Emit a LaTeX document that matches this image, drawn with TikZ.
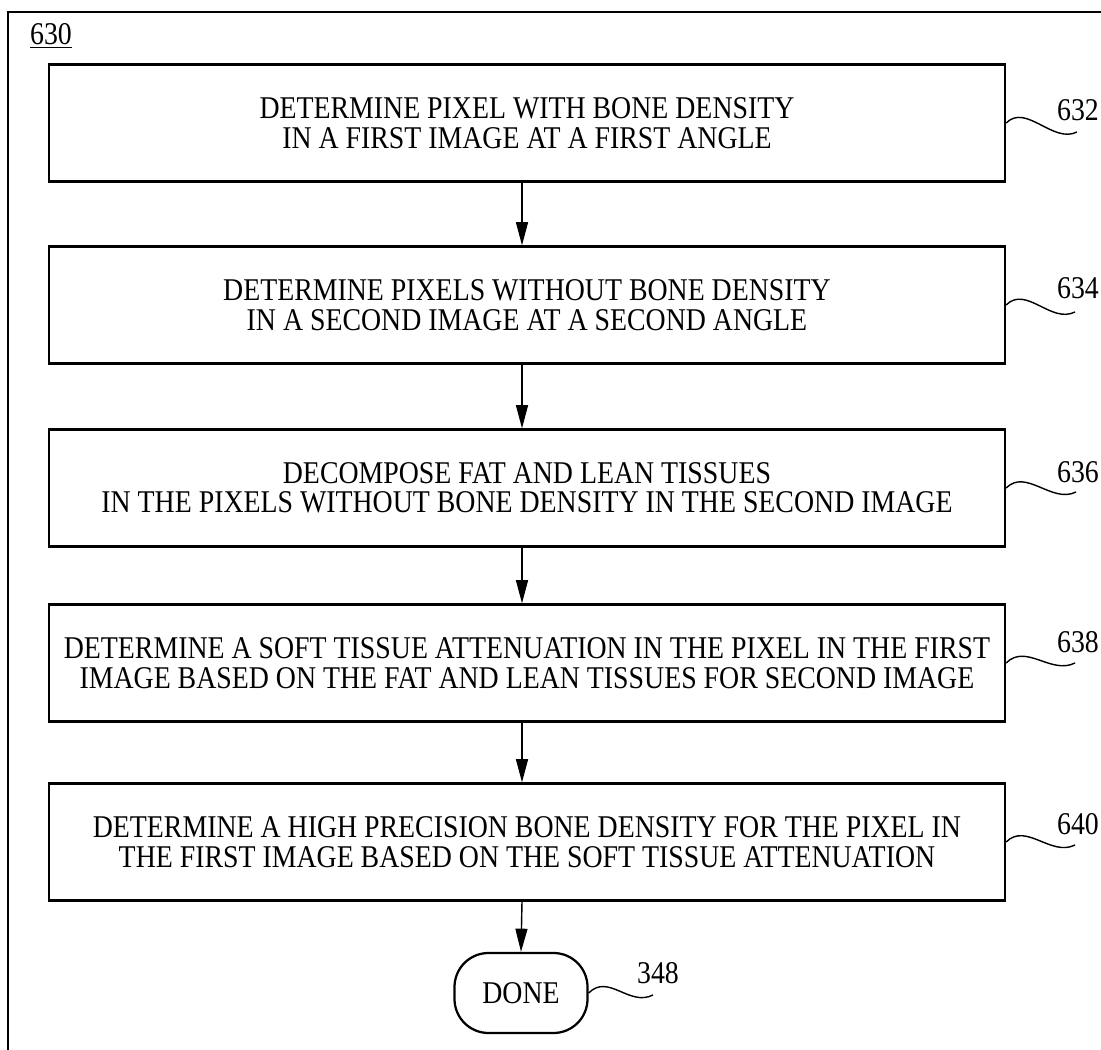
\documentclass[tikz,border=0pt]{standalone}
\usepackage{fontspec}
\setmainfont[FakeStretch=0.88]{Liberation Serif}
\usetikzlibrary{arrows.meta}
\pgfdeclarelayer{edgelayer}
\pgfdeclarelayer{nodelayer}
\pgfsetlayers{edgelayer,nodelayer,main}
\tikzset{font=\fontsize{22.5pt}{21pt}\selectfont}
\tikzstyle{none}=[inner sep=0pt]
\tikzstyle{stepbox}=[rectangle,draw,line width=1.6pt,minimum width=23.9cm,minimum height=2.925cm,align=center,inner sep=0pt]
\tikzstyle{donebox}=[rectangle,draw,line width=1.6pt,rounded corners=0.85cm,minimum width=3.325cm,minimum height=2cm,inner sep=0pt]
\tikzstyle{ref}=[inner sep=0pt]
\tikzstyle{flow}=[line width=1pt,-{Triangle[length=0.58cm,width=0.3cm]}]
\tikzstyle{lead}=[line width=1pt]

\begin{document}
\begin{tikzpicture}
	\useasboundingbox (0, 0) rectangle (27.525, -26.25);
	\begin{pgfonlayer}{nodelayer}
		\node [style=stepbox] (0) at (13.175, -3.075) {DETERMINE PIXEL WITH BONE DENSITY\\IN A FIRST IMAGE AT A FIRST ANGLE};
		\node [style=stepbox] (1) at (13.175, -7.625) {DETERMINE PIXELS WITHOUT BONE DENSITY\\IN A SECOND IMAGE AT A SECOND ANGLE};
		\node [style=stepbox] (2) at (13.175, -12.2) {DECOMPOSE FAT AND LEAN TISSUES\\IN THE PIXELS WITHOUT BONE DENSITY IN THE SECOND IMAGE};
		\node [style=stepbox] (3) at (13.175, -16.575) {DETERMINE A SOFT TISSUE ATTENUATION IN THE PIXEL IN THE FIRST\\IMAGE BASED ON THE FAT AND LEAN TISSUES FOR SECOND IMAGE};
		\node [style=stepbox] (4) at (13.175, -21.05) {DETERMINE A HIGH PRECISION BONE DENSITY FOR THE PIXEL IN\\THE FIRST IMAGE BASED ON THE SOFT TISSUE ATTENUATION};
		\node [style=donebox] (5) at (13.025, -24.825) {DONE};
		\node [style=ref] (6) at (1.275, -0.9) {\underline{630}};
		\node [style=ref] (7) at (26.95, -2.75) {632};
		\node [style=ref] (8) at (26.95, -7.2) {634};
		\node [style=ref] (9) at (26.95, -11.8) {636};
		\node [style=ref] (10) at (26.95, -16.05) {638};
		\node [style=ref] (11) at (26.95, -20.6) {640};
		\node [style=ref] (12) at (16.45, -24.325) {348};
		\node [style=none] (13) at (26.925, -3.3) {};
		\node [style=none] (14) at (26.875, -7.8) {};
		\node [style=none] (15) at (26.9, -12.3) {};
		\node [style=none] (16) at (26.875, -16.575) {};
		\node [style=none] (17) at (26.875, -21.125) {};
		\node [style=none] (18) at (16.325, -24.875) {};
		\node [style=none] (19) at (0.2, -26.3) {};
		\node [style=none] (20) at (0.2, -0.3) {};
		\node [style=none] (21) at (27.6, -0.3) {};
	\end{pgfonlayer}
	\begin{pgfonlayer}{edgelayer}
		\draw [line width=1.3pt] (19.center) to (20.center) to (21.center);
		\draw [style=flow] ([xshift=-0.125cm]0.south) to ([xshift=-0.125cm]1.north);
		\draw [style=flow] ([xshift=-0.125cm]1.south) to ([xshift=-0.125cm]2.north);
		\draw [style=flow] ([xshift=-0.125cm]2.south) to ([xshift=-0.125cm]3.north);
		\draw [style=flow] ([xshift=-0.125cm]3.south) to ([xshift=-0.125cm]4.north);
		\draw [style=flow] ([xshift=-0.125cm]4.south) to (5.north);
		\draw [style=lead] (0.east) .. controls +(0.5, 0.5) and +(-0.6, -0.3) .. (13.center);
		\draw [style=lead] (1.east) .. controls +(0.5, 0.5) and +(-0.6, -0.3) .. (14.center);
		\draw [style=lead] (2.east) .. controls +(0.5, 0.5) and +(-0.6, -0.3) .. (15.center);
		\draw [style=lead] (3.east) .. controls +(0.5, 0.5) and +(-0.6, -0.3) .. (16.center);
		\draw [style=lead] (4.east) .. controls +(0.5, 0.5) and +(-0.6, -0.3) .. (17.center);
		\draw [style=lead] (5.east) .. controls +(0.5, 0.5) and +(-0.6, -0.3) .. (18.center);
	\end{pgfonlayer}
\end{tikzpicture}
\end{document}
